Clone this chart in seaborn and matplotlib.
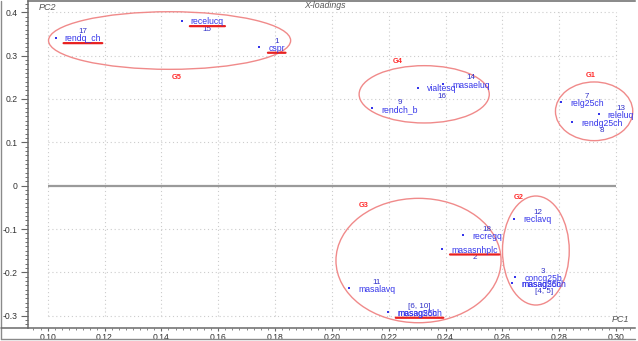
import pandas as pd
import seaborn as sns
import matplotlib.pyplot as plt
from matplotlib.patches import Ellipse
from matplotlib.lines import Line2D


# X-loadings, PC1 vs PC2
var_ids = [1, 2, 3, 4, 5, 6, 7, 8, 9, 10, 11, 12, 13, 14, 15, 16, 17, 18]
var_names = ["cspr", "masasnhplc", "concg25b", "masag25ch", "masag5ch", "masag25ch",
             "relg25ch", "rendg25ch", "rendch_b", "masag5ch", "masalavq", "reclavq",
             "releluq", "masaeluq", "recelucq", "vialtesq", "rendq_ch", "recregq"]
pc1 = [0.1745, 0.2389, 0.2645, 0.2635, 0.2635, 0.2198, 0.2807, 0.2846, 0.2142,
       0.2198, 0.2060, 0.2642, 0.2939, 0.2391, 0.1472, 0.2302, 0.1028, 0.2463]
pc2 = [0.3192, -0.1462, -0.2115, -0.2253, -0.2253, -0.2922, 0.1923, 0.1462, 0.1785,
       -0.2922, -0.2368, -0.0762, 0.1647, 0.2346, 0.3806, 0.2260, 0.3414, -0.1145]

# which id labels sit under the name, which names are underlined
num_below = [2, 4, 8, 15, 16]
underlined = [1, 2, 6, 15, 17]

# groups drawn as ellipses
grp_names = ["G1", "G2", "G3", "G4", "G5"]
grp_cx = [0.2923, 0.2718, 0.2305, 0.2325, 0.1429]
grp_cy = [0.1716, -0.1496, -0.1727, 0.2108, 0.3349]
grp_w = [0.0272, 0.0235, 0.0581, 0.0458, 0.0852]
grp_h = [0.1354, 0.2515, 0.2870, 0.1322, 0.1329]
grp_lx = [0.2911, 0.2659, 0.2111, 0.2232, 0.1455]
grp_ly = [0.2547, -0.0269, -0.0463, 0.2876, 0.2500]

xticks = [0.10, 0.12, 0.14, 0.16, 0.18, 0.20, 0.22, 0.24, 0.26, 0.28, 0.30]
yticks = [-0.3, -0.2, -0.1, 0, 0.1, 0.2, 0.3, 0.4]

BLUE = "#3535ea"
RED = "#e82020"

sns.set_style("white")
plt.rcParams["font.family"] = ["Liberation Sans", "DejaVu Sans"]

df = pd.DataFrame({"id": var_ids, "name": var_names, "pc1": pc1, "pc2": pc2})

fig = plt.figure(figsize=(6.38, 3.41), dpi=100)
ax = fig.add_axes([28 / 638, 13.5 / 341, 607 / 638, 326.5 / 341])

# grid only inside the tick range, like the original software
for xt in xticks:
    ax.vlines(xt, yticks[0], yticks[-1], color="#cccccc", lw=0.8, ls=(0, (1, 2.5)), zorder=0)
for yt in yticks:
    if yt != 0:
        ax.hlines(yt, xticks[0], xticks[-1], color="#cccccc", lw=0.8, ls=(0, (1, 2.5)), zorder=0)
ax.hlines(0, xticks[0], xticks[-1], color="#9a9a9a", lw=1.6, zorder=1)

sns.scatterplot(data=df, x="pc1", y="pc2", color=BLUE, marker="s", s=3,
                linewidth=0, ax=ax, zorder=3)

for i, g in enumerate(grp_names):
    ax.add_patch(Ellipse((grp_cx[i], grp_cy[i]), grp_w[i], grp_h[i], fill=False,
                         edgecolor="#f08a8a", lw=1.0, zorder=2))
    ax.text(grp_lx[i], grp_ly[i], g, color="#ff2a2a", fontsize=5.3, fontweight="bold",
            ha="center", va="center")

for (x, y), sub in df.groupby(["pc1", "pc2"], sort=False):
    ids = list(sub["id"])
    txts = [ax.annotate(n, (x, y), xytext=(6.5, -0.8), textcoords="offset points",
                        ha="left", va="center", color=BLUE, fontsize=6.2, zorder=4)
            for n in sub["name"]]
    t = txts[0]
    num = str(ids[0]) if len(ids) == 1 else "[" + ", ".join(str(k) for k in ids) + "]"
    if ids[0] in num_below:
        ax.annotate(num, xy=(0.5, 0), xycoords=t, xytext=(0, 0.5), textcoords="offset points",
                    ha="center", va="top", color="#3030c8", fontsize=5.8)
    else:
        ax.annotate(num, xy=(0.5, 1), xycoords=t, xytext=(0, -0.5), textcoords="offset points",
                    ha="center", va="bottom", color="#3030c8", fontsize=5.8)
    if ids[0] in underlined:
        ax.annotate("", xy=(1.03, 0.02), xycoords=t, xytext=(-0.03, 0.02), textcoords=t,
                    arrowprops=dict(arrowstyle="-", color=RED, lw=1.6, shrinkA=0, shrinkB=0))

ax.set_xlim(0.09307, 0.30669)
ax.set_ylim(-0.3272, 0.4261)
ax.set_xticks(xticks)
ax.set_xticklabels(["%.2f" % v for v in xticks])
ax.set_yticks(yticks)
ax.set_yticklabels(["%g" % v for v in yticks])
ax.set_xticks([0.0950 + 0.0025 * k for k in range(85)], minor=True)
ax.set_yticks([-0.32 + 0.01 * k for k in range(75)], minor=True)
ax.tick_params(axis="y", which="major", length=5, width=0.8, color="#666666",
               labelsize=6.2, labelcolor="#333333", pad=2.5, left=True)
ax.tick_params(axis="y", which="minor", length=2.4, width=0.7, color="#6f6f6f", left=True)
ax.tick_params(axis="x", which="major", length=2.5, width=0.8, color="#666666",
               labelsize=6.2, labelcolor="#333333", pad=1.5, bottom=True)
ax.tick_params(axis="x", which="minor", length=1.2, width=0.7, color="#888888", bottom=True)
ax.set_xlabel("")
ax.set_ylabel("")

for s in ["left", "bottom", "top"]:
    ax.spines[s].set_color("#6a6a6a")
    ax.spines[s].set_linewidth(1.1)
ax.spines["right"].set_visible(False)

ax.text(0.1, 0.4225, "PC2", style="italic", fontsize=6.5, color="#555555",
        transform=ax.transData, ha="center", va="top")
fig.text(325 / 638, 1 - 6 / 341, "X-loadings", style="italic", fontsize=6.3, color="#555555",
         ha="center", va="center")
ax.text(0.3045, -0.3095, "PC1", style="italic", fontsize=6.5, color="#555555",
        ha="right", va="center")

# outer frame of the export
fig.add_artist(Line2D([0.0008, 0.0008], [0.006, 0.998], transform=fig.transFigure,
                      color="#8a8a8a", lw=1.0))
fig.add_artist(Line2D([0.0008, 0.995], [0.006, 0.006], transform=fig.transFigure,
                      color="#8a8a8a", lw=1.0))
fig.add_artist(Line2D([0.0008, 28 / 638], [13.5 / 341, 13.5 / 341], transform=fig.transFigure,
                      color="#6a6a6a", lw=1.1))

plt.savefig("out.png", dpi=100)
